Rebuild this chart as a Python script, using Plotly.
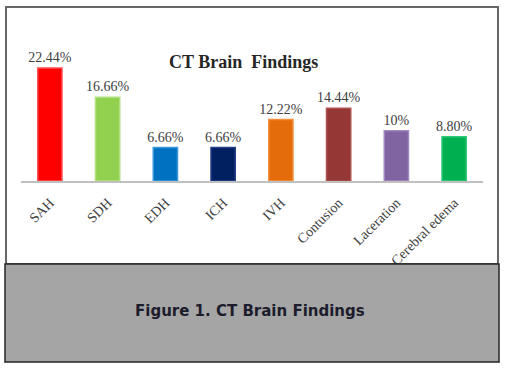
import plotly.graph_objects as go

categories = ["SAH", "SDH", "EDH", "ICH", "IVH", "Contusion", "Laceration", "Cerebral edema"]
values = [22.44, 16.66, 6.66, 6.66, 12.22, 14.44, 10.0, 8.80]
value_labels = ["22.44%", "16.66%", "6.66%", "6.66%", "12.22%", "14.44%", "10%", "8.80%"]
bar_colors = ["#ff0000", "#92d050", "#0070c0", "#002060", "#e46c0a", "#953735", "#8064a2", "#00b050"]
edge_colors = ["#ff5050", "#b0e080", "#3a98dc", "#24408a", "#f29040", "#b05250", "#a088c0", "#30c878"]

W, H = 510, 376
L, R, T, B = 21, 27, 40, 195

def px2x(px):
    return (px - L) / (W - L - R)

def px2y(py):
    return (H - B - py) / (H - T - B)

fig = go.Figure()
fig.add_trace(go.Bar(
    x=categories, y=values,
    marker=dict(color=bar_colors, line=dict(color=edge_colors, width=1.5)),
    width=0.42,
    text=value_labels, textposition="outside", cliponaxis=False,
    constraintext="none",
    textfont=dict(family="Liberation Serif", size=14, color="#404040"),
    hoverinfo="skip",
))

shapes = [
    dict(type="rect", xref="paper", yref="paper", layer="below",
         x0=px2x(6), x1=px2x(498), y0=px2y(264), y1=px2y(7),
         fillcolor="white", line=dict(color="#666666", width=2)),
    dict(type="rect", xref="paper", yref="paper", layer="above",
         x0=px2x(5), x1=px2x(499), y0=px2y(362), y1=px2y(264),
         fillcolor="#a5a5a5", line=dict(color="#262626", width=1.5)),
]

annotations = [
    dict(text="<b>CT Brain\u00a0\u00a0Findings</b>", xref="paper", yref="paper",
         x=px2x(243), y=px2y(62), showarrow=False, xanchor="center", yanchor="middle",
         font=dict(family="Liberation Serif", size=18, color="#262626")),
    dict(text="<b>Figure 1. CT Brain Findings</b>", xref="paper", yref="paper",
         x=px2x(250), y=px2y(311), showarrow=False, xanchor="center", yanchor="middle",
         font=dict(family="DejaVu Sans", size=15, color="#1c1c2c")),
]

fig.update_layout(
    width=W, height=H,
    margin=dict(l=L, r=R, t=T, b=B),
    paper_bgcolor="white", plot_bgcolor="rgba(0,0,0,0)",
    showlegend=False,
    shapes=shapes, annotations=annotations,
    xaxis=dict(showline=True, linecolor="#c0c0c0", linewidth=2, ticks="",
               tickangle=-45, showgrid=False, range=[-0.5, 7.5],
               ticklabelstandoff=6,
               tickfont=dict(family="Liberation Serif", size=14, color="#404040")),
    yaxis=dict(visible=False, range=[0, 28.03], showgrid=False),
)

fig.write_html("out.html", config={"displayModeBar": False},
               post_script="document.body.style.margin='0';")
